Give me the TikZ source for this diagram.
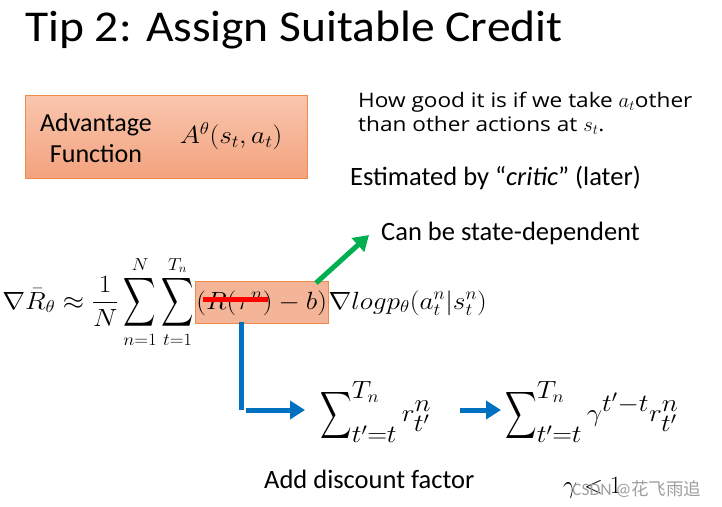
\documentclass[tikz,border=0pt]{standalone}
\usepackage{amsmath}
\usepackage{fontspec}
\setmainfont{Carlito}
\newfontfamily\titlefont[FakeStretch=1.08]{Carlito}
\newfontfamily\descfont[FakeStretch=1.13]{Open Sans}
\newfontfamily\cjk{Noto Sans CJK SC}
\usetikzlibrary{arrows.meta}
\definecolor{boxtop}{HTML}{F8C6AE}
\definecolor{boxbot}{HTML}{F3A27E}
\definecolor{boxline}{HTML}{F08A4B}
\definecolor{hlfill}{HTML}{F4B497}
\definecolor{arrgreen}{HTML}{00B050}
\definecolor{arrblue}{HTML}{0070C0}
\newcommand{\bigsig}[2]{\mathop{\vcenter{\hbox{\scalebox{#1}[#2]{$\displaystyle\sum$}}}}}
\newcommand{\wide}[1]{\scalebox{1.1}[1]{#1}}
\tikzset{
  txt/.style={anchor=base west, inner sep=0pt},
  fatarrow/.style={line width=5pt, -{Triangle[length=15pt,width=18pt]}},
}
\begin{document}
\begin{tikzpicture}[x=1pt,y=-1pt]
\useasboundingbox[fill=white] (0,0) rectangle (722,506);
% title
\node[txt, font=\titlefont\fontsize{44}{50}\selectfont] (title) at (25,41) {Tip 2: Assign Suitable Credit};
% advantage box
\node[anchor=north west, draw=boxline, line width=0.8pt, top color=boxtop, bottom color=boxbot,
      minimum width=282pt, minimum height=83pt] (advbox) at (25,95) {};
\node[align=center, font=\fontsize{26}{31}\selectfont, inner sep=0pt] (advtxt) at (96,138) {Advantage\\Function};
\node[inner sep=0pt, font=\fontsize{27}{30}\selectfont] (afun) at (231,136) {\wide{$A^{\theta}(s_t,a_t)$}};
% description
\node[txt, font=\descfont\fontsize{20}{24}\selectfont] (how1) at (358,107) {How good it is if we take $a_t$other};
\node[txt, font=\descfont\fontsize{20}{24}\selectfont] (how2) at (358,131) {than other actions at $s_t$.};
\node[txt, font=\fontsize{26.5}{30}\selectfont] (est) at (350,185) {Estimated by “\textit{critic}” (later)};
\node[txt, font=\fontsize{26.5}{30}\selectfont] (state) at (381,240) {Can be state-dependent};
% main formula
\node[anchor=base east, inner sep=0pt, font=\fontsize{25}{30}\selectfont] (lhs) at (194,309)
  {\wide{$\displaystyle \nabla\bar{R}_{\theta}\approx\frac{1}{N}\bigsig{0.82}{1.37}_{n=1}^{N}\bigsig{0.82}{1.37}_{t=1}^{T_n}$}};
\node[anchor=base west, draw=boxline, line width=0.8pt, fill=hlfill, inner xsep=1pt, inner ysep=0pt,
      text height=28pt, text depth=14pt, font=\fontsize{27}{30}\selectfont] (adv) at (195,309)
  {\wide{$(R(\tau^n)-b)$}};
\node[anchor=base west, inner sep=0pt, font=\fontsize{27}{30}\selectfont] (rhs) at (adv.base east)
  {\wide{$\nabla log p_{\theta}(a_t^n|s_t^n)$}};
% red strike
\coordinate (r0) at (203,299);
\coordinate (r1) at (268,299);
\draw[red, line width=5pt] (r0) -- (r1);
% green arrow
\coordinate (g0) at (316,283);
\draw[arrgreen, fatarrow] (g0) -- (369,235);
% sums
\node[anchor=west, inner sep=0pt, font=\fontsize{33}{36}\selectfont] (sum1) at (320,412)
  {\wide{$\displaystyle\bigsig{0.8}{1.32}\nolimits_{t'=t}^{T_n} r_{t'}^{n}$}};
\node[anchor=west, inner sep=0pt, font=\fontsize{33}{36}\selectfont] (sum2) at (505,412)
  {\wide{$\displaystyle\bigsig{0.8}{1.32}\nolimits_{t'=t}^{T_n} \gamma^{t'-t} r_{t'}^{n}$}};
% blue connectors
\coordinate (b0) at (241,322);
\coordinate (b1) at (241,410);
\coordinate (b2) at (246,410);
\draw[arrblue, line width=5pt] (b0) -- (b1);
\draw[arrblue, fatarrow] (b2) -- (305,410);
\coordinate (c0) at (460,410);
\draw[arrblue, fatarrow] (c0) -- (501,410);
% bottom labels
\node[txt, font=\fontsize{26.5}{30}\selectfont] (disc) at (264,488) {Add discount factor};
\node[txt, font=\fontsize{40}{42}\selectfont] (gam) at (563,493) {$\gamma<1$};
\node[txt, text=gray!75, font=\fontsize{17.5}{20}\selectfont] (wm) at (572,495) {CSDN @{\cjk 花飞雨追}};
\end{tikzpicture}
\end{document}
